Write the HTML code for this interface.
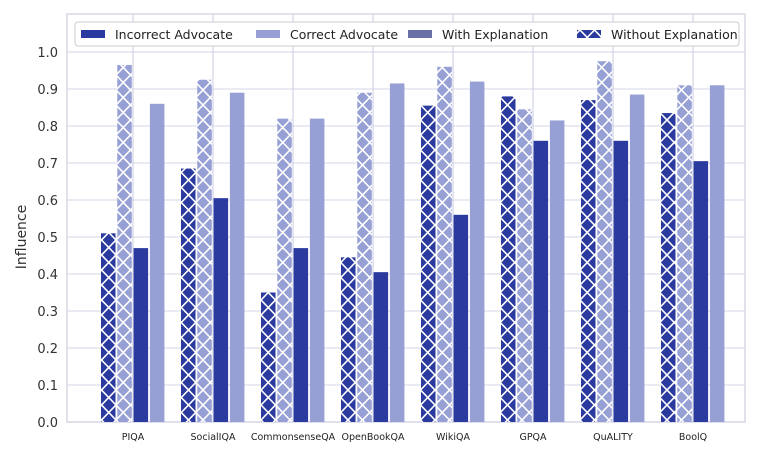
<!DOCTYPE html>
<html><head><meta charset="utf-8"><style>
body{margin:0;background:#fff;}
svg{display:block;font-family:"DejaVu Sans","Liberation Sans",sans-serif;}
</style></head><body>
<svg id="chart" width="761" height="457">
<defs>
<pattern id="hatchDark" patternUnits="userSpaceOnUse" width="14.5" height="15">
<rect width="14.5" height="15" fill="#2b3a9e"/>
<path d="M0,0 L14.5,15 M14.5,0 L0,15" stroke="#fff" stroke-width="1.6"/>
</pattern>
<pattern id="hatchLight" patternUnits="userSpaceOnUse" width="14.5" height="15">
<rect width="14.5" height="15" fill="#97a0d4"/>
<path d="M0,0 L14.5,15 M14.5,0 L0,15" stroke="#fff" stroke-width="1.6"/>
</pattern>
</defs>
<rect x="67" y="14" width="678" height="408" fill="#fff" stroke="#d8d8e4" stroke-width="1.5"/>
<g id="grid"></g>
<g id="bars"></g>
<g id="axes"></g>
<text x="26" y="237" transform="rotate(-90 26 237)" text-anchor="middle" font-size="14" fill="#333">Influence</text>
<g>
<rect x="75" y="22" width="664" height="24" rx="3" fill="#fff" stroke="#ccc" stroke-width="1"/>
<rect x="81" y="30" width="24" height="8" fill="#2b3a9e"/>
<text x="115" y="39" font-size="12.5" fill="#222">Incorrect Advocate</text>
<rect x="256" y="30" width="24" height="8" fill="#97a0d4"/>
<text x="290" y="39" font-size="12.5" fill="#222">Correct Advocate</text>
<rect x="408" y="30" width="24" height="8" fill="#6a70a8"/>
<text x="442" y="39" font-size="12.5" fill="#222">With Explanation</text>
<rect x="577" y="30" width="24" height="8" fill="url(#hatchDark)"/>
<text x="611" y="39" font-size="12.5" fill="#222">Without Explanation</text>
</g>
</svg>
<script>
const categories=["PIQA","SocialIQA","CommonsenseQA","OpenBookQA","WikiQA","GPQA","QuALITY","BoolQ"];
const incorrectWithout=[0.51,0.685,0.35,0.445,0.855,0.88,0.87,0.835];
const correctWithout=[0.965,0.925,0.82,0.89,0.96,0.845,0.975,0.91];
const incorrectWith=[0.47,0.605,0.47,0.405,0.56,0.76,0.76,0.705];
const correctWith=[0.86,0.89,0.82,0.915,0.92,0.815,0.885,0.91];
const yTicks=[0,0.1,0.2,0.3,0.4,0.5,0.6,0.7,0.8,0.9,1.0];
const NS="http://www.w3.org/2000/svg";
function y(v){return 422-v*370;}
function xc(i){return 133+i*80;}
const grid=document.getElementById('grid'),bars=document.getElementById('bars'),axes=document.getElementById('axes');
function mk(tag,attrs,parent){const e=document.createElementNS(NS,tag);for(const k in attrs)e.setAttribute(k,attrs[k]);parent.appendChild(e);return e;}
yTicks.forEach(t=>{
  const l=mk('line',{x1:67,x2:745,y1:y(t),y2:y(t),stroke:'#d6d6e6','stroke-width':1},grid);
  
  
  const tx=mk('text',{x:58,y:y(t)+5,'text-anchor':'end','font-size':13,fill:'#333'},axes);
  tx.textContent=t.toFixed(1);
  
  
});
categories.forEach((c,i)=>{
  const l=mk('line',{x1:xc(i),x2:xc(i),y1:14,y2:422,stroke:'#c8cbe2','stroke-width':1},grid);
  
  
  const tx=mk('text',{x:xc(i),y:440,'text-anchor':'middle','font-size':9.5,fill:'#222'},axes);
  tx.textContent=c;
  
  
});
const series=[[incorrectWithout,'url(#hatchDark)','bar-incorrect-without'],[correctWithout,'url(#hatchLight)','bar-correct-without'],[incorrectWith,'#2b3a9e','bar-incorrect-with'],[correctWith,'#97a0d4','bar-correct-with']];
series.forEach((s,si)=>{
  s[0].forEach((v,i)=>{
    const b=mk('rect',{x:xc(i)-32+si*16.3,y:y(v),width:14.5,height:v*370,fill:s[1]},bars);
    
    
  });
});
</script>
</body></html>
